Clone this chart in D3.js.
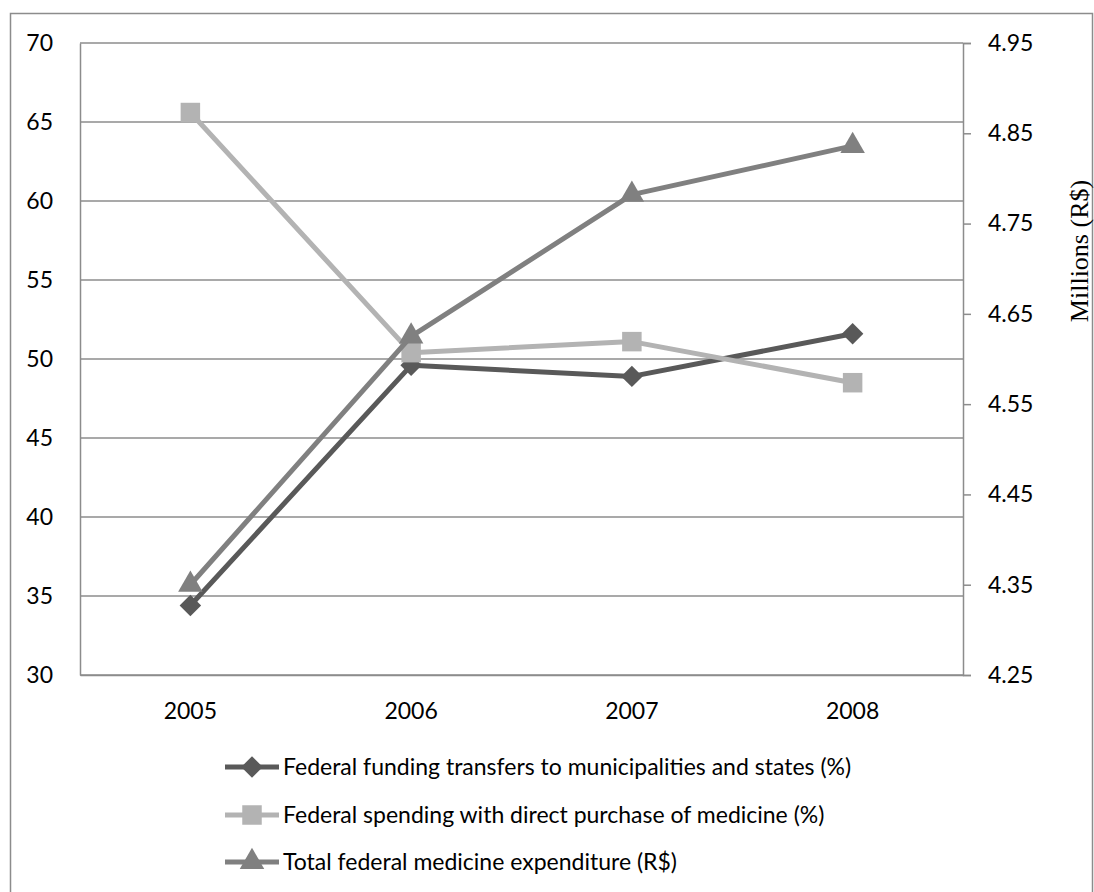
<!DOCTYPE html>
<html>
<head>
<meta charset="utf-8">
<script src="https://cdn.jsdelivr.net/npm/d3@7"></script>
<style>
  body { margin: 0; background: #fff; }
  text { font-family: Lato, "Open Sans", sans-serif; fill: #000; }
</style>
</head>
<body>
<script>
// data
var years = ["2005", "2006", "2007", "2008"];
var transfers = [34.4, 49.6, 48.9, 51.6];      // % left axis
var directBuy = [65.6, 50.4, 51.1, 48.5];      // % left axis
var totalSpend = [4.35, 4.625, 4.782, 4.836];  // millions R$, right axis
var leftTicks = [30, 35, 40, 45, 50, 55, 60, 65, 70];
var rightTicks = [4.25, 4.35, 4.45, 4.55, 4.65, 4.75, 4.85, 4.95];
var seriesNames = [
  "Federal funding transfers to municipalities and states (%)",
  "Federal spending with direct purchase of medicine (%)",
  "Total federal medicine expenditure (R$)"
];

var width = 1094, height = 892;
var svg = d3.select("body").append("svg")
  .attr("width", width)
  .attr("height", height);

// chart border
svg.append("rect")
  .attr("x", 10.5).attr("y", 13.5)
  .attr("width", 1082).attr("height", 900)
  .attr("fill", "none")
  .attr("stroke", "#8c8c8c")
  .attr("stroke-width", 1.5);

var plotLeft = 80, plotRight = 963, plotTop = 43, plotBottom = 675;
var fontSize = 23;

var x = d3.scaleBand().domain(years).range([plotLeft, plotRight]);
var yL = d3.scaleLinear().domain([30, 70]).range([plotBottom, plotTop]);
var yR = d3.scaleLinear().domain([4.25, 4.95]).range([plotBottom, plotTop]);

// gridlines
svg.append("g")
  .selectAll("line")
  .data(leftTicks)
  .enter()
  .append("line")
    .attr("x1", plotLeft).attr("x2", plotRight)
    .attr("y1", function(d) { return yL(d); })
    .attr("y2", function(d) { return yL(d); })
    .attr("stroke", "#8c8c8c")
    .attr("stroke-width", 1.5);

// left axis
var axL = svg.append("g")
  .attr("transform", "translate(" + plotLeft + ",0)")
  .call(d3.axisLeft(yL).tickValues(leftTicks).tickSize(0).tickPadding(27));
axL.select(".domain").attr("stroke", "#8c8c8c").attr("stroke-width", 1.5);
axL.selectAll("text").attr("font-size", fontSize).style("font-family", "Lato, sans-serif");

// right axis
var axR = svg.append("g")
  .attr("transform", "translate(" + plotRight + ",0)")
  .call(d3.axisRight(yR).tickValues(rightTicks).tickSize(8).tickPadding(17)
    .tickFormat(d3.format(".2f")));
axR.select(".domain").attr("stroke", "#8c8c8c").attr("stroke-width", 1.5);
axR.selectAll("line").attr("stroke", "#8c8c8c").attr("stroke-width", 1.5);
axR.selectAll("text").attr("font-size", fontSize).style("font-family", "Lato, sans-serif");

// x axis labels
var axX = svg.append("g")
  .attr("transform", "translate(0," + plotBottom + ")")
  .call(d3.axisBottom(x).tickSize(0).tickPadding(28));
axX.select(".domain").attr("stroke", "#8c8c8c").attr("stroke-width", 1.5);
axX.selectAll("text").attr("font-size", fontSize).style("font-family", "Lato, sans-serif");

// right axis title
svg.append("text")
  .attr("transform", "translate(1088,251) rotate(-90)")
  .attr("text-anchor", "middle")
  .style("font-family", "'Liberation Serif', 'Times New Roman', serif")
  .attr("font-size", 26)
  .text("Millions (R$)");

var cx = function(d, i) { return x(years[i]) + x.bandwidth() / 2; };

// diamond = square turned 45deg, like the Excel marker
var series = [
  { values: transfers, scale: yL, color: "#595959", shape: d3.symbolSquare, size: 230, rot: 45 },
  { values: directBuy, scale: yL, color: "#b3b3b3", shape: d3.symbolSquare, size: 380, rot: 0 },
  { values: totalSpend, scale: yR, color: "#808080", shape: d3.symbolTriangle, size: 260, rot: 0 }
];

series.forEach(function(s) {
  var line = d3.line()
    .x(cx)
    .y(function(d) { return s.scale(d); });
  svg.append("path")
    .datum(s.values)
    .attr("d", line)
    .attr("fill", "none")
    .attr("stroke", s.color)
    .attr("stroke-width", 5)
    .attr("stroke-linejoin", "round");
  svg.append("g")
    .selectAll("path")
    .data(s.values)
    .enter()
    .append("path")
      .attr("d", d3.symbol().type(s.shape).size(s.size))
      .attr("transform", function(d, i) {
        return "translate(" + cx(d, i) + "," + s.scale(d) + ") rotate(" + s.rot + ")";
      })
      .attr("fill", s.color);
});

// legend
var legend = svg.append("g");
var rowY = [767, 815, 862];
series.forEach(function(s, i) {
  var g = legend.append("g").attr("transform", "translate(0," + rowY[i] + ")");
  g.append("line")
    .attr("x1", 225).attr("x2", 279)
    .attr("stroke", s.color)
    .attr("stroke-width", 5);
  g.append("path")
    .attr("d", d3.symbol().type(s.shape).size(s.size))
    .attr("transform", "translate(252,0) rotate(" + s.rot + ")")
    .attr("fill", s.color);
  g.append("text")
    .attr("x", 283)
    .attr("dy", "0.35em")
    .attr("font-size", fontSize)
    .text(seriesNames[i]);
});
</script>
</body>
</html>
